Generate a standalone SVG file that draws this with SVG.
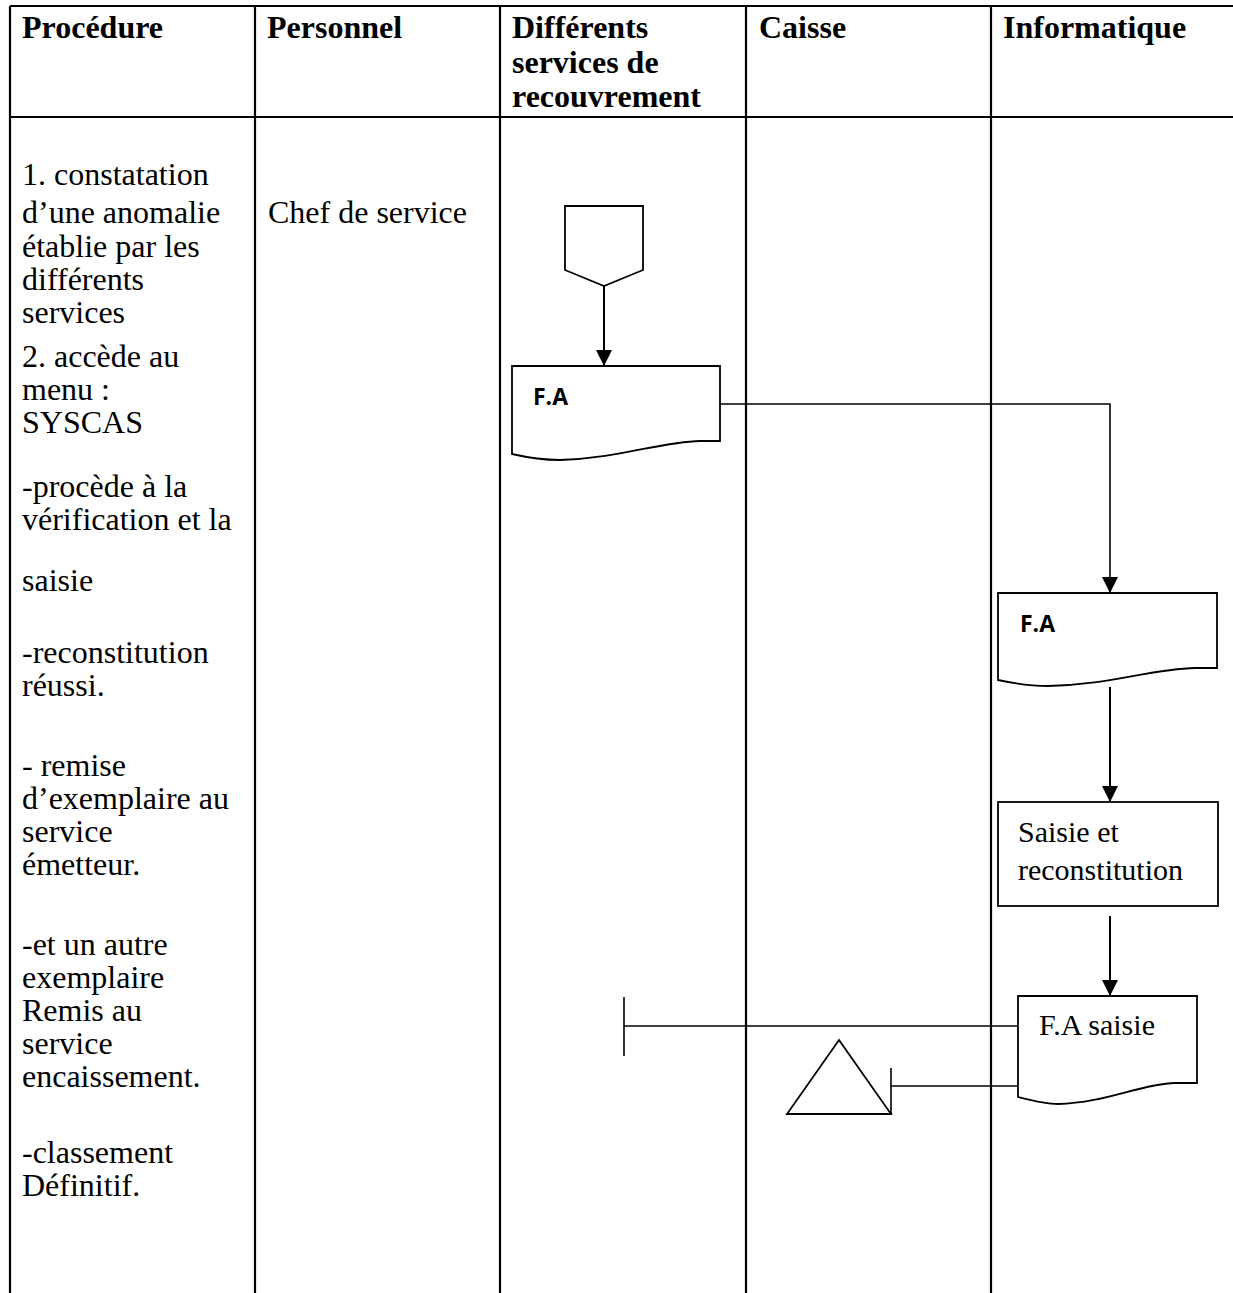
<svg xmlns="http://www.w3.org/2000/svg" width="1233" height="1293" viewBox="0 0 1233 1293">
<style>
.grid{stroke:#000;stroke-width:2.2;fill:none}
.hd{font-family:"Liberation Serif","Times New Roman",serif;font-weight:bold;font-size:32px;fill:#000}
.tx{font-family:"Liberation Serif","Times New Roman",serif;font-size:32px;fill:#000}
.bx{font-family:"Liberation Serif","Times New Roman",serif;font-size:30px;fill:#000}
.sa{font-family:"Open Sans","Liberation Sans",sans-serif;font-weight:bold;font-size:23px;fill:#000}
.shape{fill:#fff;stroke:#000;stroke-width:1.8}
.con{fill:none;stroke:#000;stroke-width:2}
.thin{fill:none;stroke:#000;stroke-width:1.6}
</style>
<defs>
<marker id="arr" markerUnits="userSpaceOnUse" markerWidth="17" markerHeight="17" refX="16" refY="8" orient="auto">
<path d="M0,0 L16,8 L0,16 Z" fill="#000"/>
</marker>
</defs>
<rect width="1233" height="1293" fill="#fff"/>
<g id="table">
<line class="grid" x1="10" y1="6" x2="1233" y2="6"/>
<line class="grid" x1="10" y1="117" x2="1233" y2="117"/>
<line class="grid" x1="10" y1="6" x2="10" y2="1293"/>
<line class="grid" x1="255" y1="6" x2="255" y2="1293"/>
<line class="grid" x1="500" y1="6" x2="500" y2="1293"/>
<line class="grid" x1="746" y1="6" x2="746" y2="1293"/>
<line class="grid" x1="991" y1="6" x2="991" y2="1293"/>
<text class="hd" x="22" y="38">Procédure</text>
<text class="hd" x="267" y="38">Personnel</text>
<text class="hd" x="512" y="38">Différents</text>
<text class="hd" x="512" y="73">services de</text>
<text class="hd" x="512" y="107">recouvrement</text>
<text class="hd" x="759" y="38">Caisse</text>
<text class="hd" x="1003" y="38">Informatique</text>
</g>
<g id="procedure-text" class="tx">
<text x="22" y="185">1. constatation</text>
<text x="22" y="223">d’une anomalie</text>
<text x="22" y="257">établie par les</text>
<text x="22" y="290">différents</text>
<text x="22" y="323">services</text>
<text x="22" y="367">2. accède au</text>
<text x="22" y="400">menu :</text>
<text x="22" y="433">SYSCAS</text>
<text x="22" y="497">-procède à la</text>
<text x="22" y="530">vérification et la</text>
<text x="22" y="591">saisie</text>
<text x="22" y="663">-reconstitution</text>
<text x="22" y="696">réussi.</text>
<text x="22" y="776">- remise</text>
<text x="22" y="809">d’exemplaire au</text>
<text x="22" y="842">service</text>
<text x="22" y="875">émetteur.</text>
<text x="22" y="955">-et un autre</text>
<text x="22" y="988">exemplaire</text>
<text x="22" y="1021">Remis au</text>
<text x="22" y="1054">service</text>
<text x="22" y="1087">encaissement.</text>
<text x="22" y="1163">-classement</text>
<text x="22" y="1196">Définitif.</text>
</g>
<g id="personnel-text">
<text class="tx" x="268" y="223">Chef de service</text>
</g>
<g id="connectors">
<line class="con" x1="604" y1="286" x2="604" y2="366" marker-end="url(#arr)"/>
<polyline class="thin" points="720,404 1110,404 1110,593" marker-end="url(#arr)"/>
<line class="con" x1="1110" y1="687" x2="1110" y2="802" marker-end="url(#arr)"/>
<line class="con" x1="1110" y1="916" x2="1110" y2="996" marker-end="url(#arr)"/>
<line class="thin" x1="1018" y1="1026" x2="624" y2="1026"/>
<line class="thin" x1="624" y1="997" x2="624" y2="1056"/>
<line class="thin" x1="1018" y1="1086" x2="891" y2="1086"/>
<line class="thin" x1="891" y1="1068" x2="891" y2="1114"/>
</g>
<g id="offpage">
<path class="shape" d="M565,206 H643 V270 L604,286 L565,270 Z"/>
</g>
<g id="doc-fa-1">
<path class="shape" d="M512,366 H720 V441 H700 C660,442 620,458 560,460 C540,460 525,457 512,454 Z"/>
<text class="sa" x="533" y="405">F.A</text>
</g>
<g id="doc-fa-2">
<path class="shape" d="M998,593 H1217 V668 H1195 C1150,669 1110,685 1048,686 C1030,686 1012,683 998,680 Z"/>
<text class="sa" x="1020" y="632">F.A</text>
</g>
<g id="process-saisie">
<rect class="shape" x="998" y="802" width="220" height="104"/>
<text class="bx" x="1018" y="842">Saisie et</text>
<text class="bx" x="1018" y="880">reconstitution</text>
</g>
<g id="doc-fa-saisie">
<path class="shape" d="M1018,996 H1197 V1083 H1175 C1140,1084 1105,1103 1058,1104 C1045,1104 1030,1100 1018,1097 Z"/>
<text class="bx" x="1039" y="1035">F.A saisie</text>
</g>
<g id="archive">
<path class="shape" d="M839,1040 L891,1114 L787,1114 Z"/>
</g>
</svg>
